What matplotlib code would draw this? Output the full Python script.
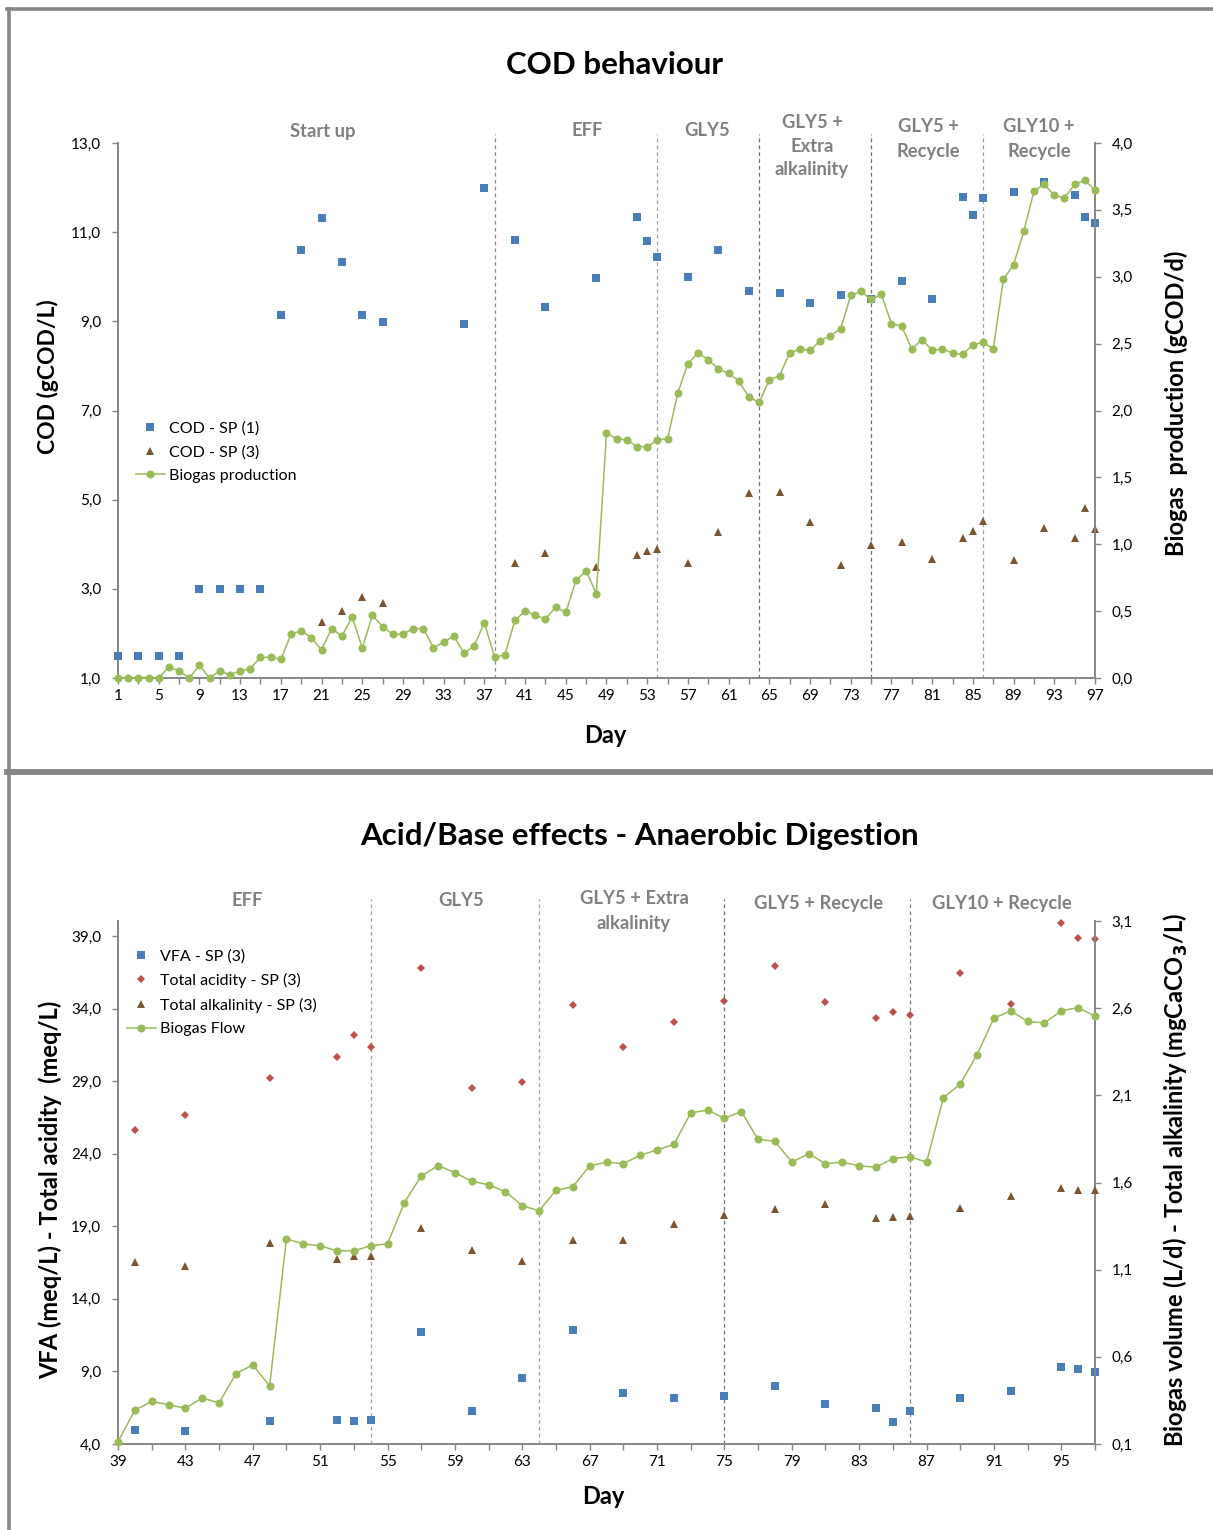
import matplotlib
matplotlib.use("Agg")
import matplotlib.pyplot as plt
from matplotlib.lines import Line2D
from matplotlib.ticker import FixedLocator, FuncFormatter

plt.rcParams["font.family"] = ["Lato", "DejaVu Sans"]

# ---- data: COD behaviour (top) ----
cod1_days = [1, 3, 5, 7, 9, 11, 13, 15, 17, 19, 21, 23, 25, 27, 35, 37, 40, 43, 48, 52,
             53, 54, 57, 60, 63, 66, 69, 72, 75, 78, 81, 84, 85, 86, 89, 92, 95, 96, 97]
cod1 = [1.5, 1.5, 1.5, 1.5, 3.0, 3.0, 3.0, 3.0, 9.15, 10.59, 11.31, 10.32, 9.14, 8.98,
        8.94, 12.0, 10.83, 9.32, 9.97, 11.34, 10.80, 10.45, 9.99, 10.60, 9.69, 9.63,
        9.42, 9.58, 9.50, 9.90, 9.50, 11.79, 11.39, 11.76, 11.90, 12.13, 11.83, 11.33, 11.21]
cod3_days = [21, 23, 25, 27, 40, 43, 48, 52, 53, 54, 57, 60, 63, 66, 69, 72, 75, 78, 81,
             84, 85, 86, 89, 92, 95, 96, 97]
cod3 = [2.25, 2.51, 2.81, 2.68, 3.58, 3.80, 3.49, 3.77, 3.84, 3.89, 3.57, 4.28, 5.15,
        5.18, 4.49, 3.54, 3.98, 4.05, 3.66, 4.15, 4.30, 4.52, 3.65, 4.36, 4.14, 4.81, 4.35]
biogas_days = list(range(1, 98))
biogas_cod = [0, 0, 0, 0, 0, 0.084, 0.052, 0, 0.095, 0, 0.052, 0.024, 0.052, 0.071, 0.155,
              0.155, 0.139, 0.327, 0.354, 0.30, 0.212, 0.370, 0.313, 0.457, 0.226, 0.468,
              0.384, 0.327, 0.327, 0.370, 0.370, 0.226, 0.269, 0.313, 0.185, 0.242, 0.414,
              0.157, 0.172, 0.43, 0.50, 0.47, 0.44, 0.53, 0.49, 0.73, 0.80, 0.63, 1.83,
              1.79, 1.78, 1.73, 1.73, 1.78, 1.79, 2.13, 2.35, 2.43, 2.38, 2.31, 2.28, 2.22,
              2.10, 2.06, 2.23, 2.26, 2.43, 2.46, 2.45, 2.52, 2.56, 2.61, 2.86, 2.89, 2.83,
              2.87, 2.65, 2.63, 2.46, 2.53, 2.45, 2.46, 2.43, 2.42, 2.49, 2.51, 2.46, 2.98,
              3.09, 3.34, 3.64, 3.69, 3.61, 3.59, 3.69, 3.72, 3.65]

# ---- data: acid/base (bottom) ----
ab_days = [40, 43, 48, 52, 53, 54, 57, 60, 63, 66, 69, 72, 75, 78, 81, 84, 85, 86, 89,
           92, 95, 96, 97]
vfa = [4.98, 4.92, 5.56, 5.66, 5.58, 5.64, 11.74, 6.25, 8.54, 11.84, 7.54, 7.14, 7.28,
       7.99, 6.75, 6.48, 5.53, 6.27, 7.20, 7.62, 9.31, 9.15, 8.97]
acidity = [25.63, 26.64, 29.25, 30.68, 32.18, 31.36, 36.78, 28.54, 28.96, 34.24, 31.34,
           33.05, 34.56, 36.96, 34.48, 33.34, 33.74, 33.58, 36.49, 34.32, 39.92, 38.89, 38.81]
alkalinity = [1.144, 1.122, 1.254, 1.162, 1.179, 1.179, 1.338, 1.215, 1.148, 1.272, 1.272,
              1.36, 1.413, 1.446, 1.477, 1.397, 1.402, 1.406, 1.452, 1.525, 1.567, 1.556, 1.556]
flow_days = list(range(39, 98))
biogas_flow = [0.113, 0.294, 0.344, 0.325, 0.305, 0.364, 0.336, 0.503, 0.554, 0.433,
               1.276, 1.248, 1.237, 1.208, 1.208, 1.237, 1.248, 1.485, 1.637, 1.697,
               1.657, 1.607, 1.587, 1.547, 1.468, 1.437, 1.556, 1.576, 1.695, 1.717,
               1.708, 1.756, 1.787, 1.818, 1.999, 2.016, 1.968, 2.007, 1.847, 1.836,
               1.717, 1.765, 1.708, 1.717, 1.695, 1.688, 1.737, 1.748, 1.717, 2.086,
               2.165, 2.334, 2.543, 2.585, 2.524, 2.515, 2.585, 2.603, 2.554]

phase_days = [38, 54, 64, 75, 86]
top_phases = ["Start up", "EFF", "GLY5", "GLY5 +\nExtra\nalkalinity", "GLY5 +\nRecycle",
              "GLY10 +\nRecycle"]
bot_phases = ["EFF", "GLY5", "GLY5 + Extra\nalkalinity", "GLY5 + Recycle", "GLY10 + Recycle"]

BLUE = "#4a7ebb"
BROWN = "#7b5532"
GREEN = "#9bbb59"
RED = "#c0504d"
AXC = "#868686"
PHASE = "#808080"

W, H = 1213, 1530
fig = plt.figure(figsize=(W / 100, H / 100), dpi=100)


def fx(px):
    return px / W


def fy(py):
    return 1 - py / H


def comma(v, pos):
    return f"{v:.1f}".replace(".", ",")


def style_axes(ax, ax2):
    for s in ["top", "right"]:
        ax.spines[s].set_visible(False)
    for s in ["top", "left", "bottom"]:
        ax2.spines[s].set_visible(False)
    for sp in [ax.spines["left"], ax.spines["bottom"], ax2.spines["right"]]:
        sp.set_color(AXC)
        sp.set_linewidth(1.4)
    for a in (ax, ax2):
        a.tick_params(which="both", direction="out", color=AXC, width=1, length=4,
                      labelsize=11, labelcolor="black")
    ax.tick_params(axis="y", pad=8)
    ax2.tick_params(axis="y", pad=8)
    ax.tick_params(axis="x", pad=4)
    ax.yaxis.set_major_formatter(FuncFormatter(comma))
    ax2.yaxis.set_major_formatter(FuncFormatter(comma))


# frame lines around the two chart objects
fig.add_artist(Line2D([fx(8.5), fx(8.5)], [0, fy(8.5)], color=AXC, lw=2.6))
fig.add_artist(Line2D([fx(7), 1], [fy(8.5), fy(8.5)], color=AXC, lw=2.6))
fig.add_artist(Line2D([fx(7), 1], [fy(772), fy(772)], color=AXC, lw=4.2))

MS = 5.8

# ---------------- top chart ----------------
ax = fig.add_axes([fx(118), fy(678), fx(1095) - fx(118), fy(143) - fy(678)])
ax2 = ax.twinx()
ax.set_xlim(1, 97)
ax.set_ylim(1, 13)
ax2.set_ylim(0, 4)
ax.xaxis.set_major_locator(FixedLocator(list(range(1, 98, 4))))
ax.xaxis.set_minor_locator(FixedLocator(list(range(3, 98, 4))))
ax.yaxis.set_major_locator(FixedLocator([1, 3, 5, 7, 9, 11, 13]))
ax2.yaxis.set_major_locator(FixedLocator([0, 0.5, 1, 1.5, 2, 2.5, 3, 3.5, 4]))
style_axes(ax, ax2)

ax.plot(cod1_days, cod1, "s", color=BLUE, ms=MS, mew=0, clip_on=False, zorder=3,
        label="COD - SP (1)")
ax.plot(cod3_days, cod3, "^", color=BROWN, ms=6, mew=0, clip_on=False, zorder=3,
        label="COD - SP (3)")
ax2.plot(biogas_days, biogas_cod, "-o", color=GREEN, lw=1.1, ms=MS, mew=0,
         clip_on=False, zorder=3, label="Biogas production")

top_colors = ["#8c8c8c", "#a0a0a0", "#707070", "#707070", "#a0a0a0"]
for d, c in zip(phase_days, top_colors):
    ax.axvline(d, ymin=0, ymax=1.016, color=c, lw=0.9, ls=(0, (3, 2.5)), clip_on=False,
               zorder=1)

top_lab_x = [323, 587, 707, 812, 928, 1039]
top_lab_y = [131, 131, 131, 146, 139, 139]
for label, px, py in zip(top_phases, top_lab_x, top_lab_y):
    fig.text(fx(px), fy(py), label, ha="center", va="center", fontsize=13.2,
             fontweight="bold", color=PHASE, linespacing=1.5)

fig.text(fx(614), fy(65), "COD behaviour", ha="center", va="center", fontsize=22.5,
         fontweight="bold")
fig.text(fx(48), fy(377), "COD (gCOD/L)", ha="center", va="center", rotation=90,
         fontsize=16.5, fontweight="bold")
fig.text(fx(1176), fy(403), "Biogas  production (gCOD/d)", ha="center", va="center",
         rotation=90, fontsize=17, fontweight="bold")
fig.text(fx(605), fy(735), "Day", ha="center", va="center", fontsize=17,
         fontweight="bold")

h1, l1 = ax.get_legend_handles_labels()
h2, l2 = ax2.get_legend_handles_labels()
fig.legend(h1 + h2, l1 + l2, loc="upper left", bbox_to_anchor=(fx(136), fy(421)),
           frameon=False, fontsize=11.5, handlelength=1.8, handletextpad=0.25,
           labelspacing=0.6, borderpad=0, borderaxespad=0)

# ---------------- bottom chart ----------------
bx = fig.add_axes([fx(118), fy(1444), fx(1095) - fx(118), fy(921) - fy(1444)])
bx2 = bx.twinx()
bx.set_xlim(39, 97)
bx.set_ylim(4, 40.04)
bx2.set_ylim(0.1, 3.1)
bx.xaxis.set_major_locator(FixedLocator(list(range(39, 98, 4))))
bx.xaxis.set_minor_locator(FixedLocator(list(range(41, 98, 4))))
bx.yaxis.set_major_locator(FixedLocator([4, 9, 14, 19, 24, 29, 34, 39]))
bx2.yaxis.set_major_locator(FixedLocator([0.1, 0.6, 1.1, 1.6, 2.1, 2.6, 3.1]))
style_axes(bx, bx2)

bx.plot(ab_days, vfa, "s", color=BLUE, ms=MS, mew=0, clip_on=False, zorder=3,
        label="VFA - SP (3)")
bx.plot(ab_days, acidity, "D", color=RED, ms=3.8, mew=0, clip_on=False, zorder=3,
        label="Total acidity - SP (3)")
bx2.plot(ab_days, alkalinity, "^", color=BROWN, ms=6, mew=0, clip_on=False, zorder=3,
         label="Total alkalinity - SP (3)")
bx2.plot(flow_days, biogas_flow, "-o", color=GREEN, lw=1.1, ms=MS, mew=0,
         clip_on=False, zorder=3, label="Biogas Flow")

bot_colors = ["#a0a0a0", "#a0a0a0", "#707070", "#808080"]
for d, c in zip(phase_days[1:], bot_colors):
    bx.axvline(d, ymin=0, ymax=1.043, color=c, lw=0.9, ls=(0, (3, 2.5)), clip_on=False,
               zorder=1)

bot_lab_x = [247, 461, 634, 819, 1002]
bot_lab_y = [901, 901, 911, 904, 904]
for label, px, py in zip(bot_phases, bot_lab_x, bot_lab_y):
    fig.text(fx(px), fy(py), label, ha="center", va="center", fontsize=13.2,
             fontweight="bold", color=PHASE, linespacing=1.5)

fig.text(fx(639), fy(836), "Acid/Base effects - Anaerobic Digestion", ha="center",
         va="center", fontsize=22.5, fontweight="bold")
fig.text(fx(50), fy(1190), "VFA (meq/L) - Total acidity  (meq/L)", ha="center",
         va="center", rotation=90, fontsize=17, fontweight="bold")
fig.text(fx(1176), fy(1180), "Biogas volume (L/d) - Total alkalinity (mgCaCO$_\\mathbf{3}$/L)",
         ha="center", va="center", rotation=90, fontsize=17, fontweight="bold")
fig.text(fx(603), fy(1496), "Day", ha="center", va="center", fontsize=17,
         fontweight="bold")

h1, l1 = bx.get_legend_handles_labels()
h2, l2 = bx2.get_legend_handles_labels()
fig.legend(h1 + h2, l1 + l2, loc="upper left", bbox_to_anchor=(fx(127), fy(949)),
           frameon=False, fontsize=11.5, handlelength=1.8, handletextpad=0.25,
           labelspacing=0.6, borderpad=0, borderaxespad=0)

fig.savefig("out.png", dpi=100, facecolor="white")
